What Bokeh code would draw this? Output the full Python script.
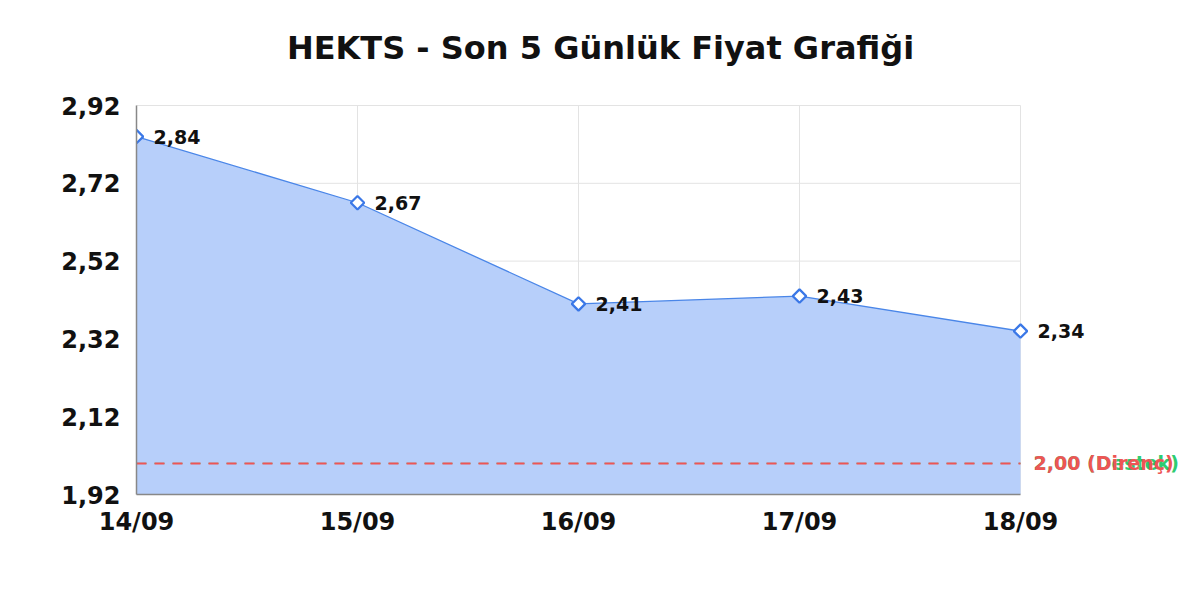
import math
from bokeh.plotting import figure
from bokeh.models import ColumnDataSource, FixedTicker
from bokeh.embed import file_html
from bokeh.resources import INLINE
from bokeh.core.properties import value

dates = ["14/09", "15/09", "16/09", "17/09", "18/09"]
prices = [2.84, 2.67, 2.41, 2.43, 2.34]
price_labels = ["2,84", "2,67", "2,41", "2,43", "2,34"]
y_ticks = [1.92, 2.12, 2.32, 2.52, 2.72, 2.92]
y_tick_labels = ["1,92", "2,12", "2,32", "2,52", "2,72", "2,92"]
level_values = [2.00, 2.00]
level_labels = ["2,00 (Destek)", "2,00 (Direnç)"]
level_colors = ["#2ecc71", "#ee5555"]
level_widths = [1.0, 2.0]
title_text = "HEKTS - Son 5 Günlük Fiyat Grafiği"

FONT = "DejaVu Sans"
xs = list(range(len(dates)))
x_last = xs[-1]
y_lo, y_hi = y_ticks[0], y_ticks[-1]
src = ColumnDataSource(dict(x=xs, y=prices, lbl=price_labels, base=[y_lo] * len(xs)))

# layout in pixels
W, H = 1184, 584
LEFT, BOTTOM = 136, 90
DATA_RIGHT_PX, DATA_TOP_PX = 1020, 105
px_per_x = (DATA_RIGHT_PX - LEFT) / x_last
px_per_y = (H - BOTTOM - DATA_TOP_PX) / (y_hi - y_lo)
x_end = x_last + (W - DATA_RIGHT_PX) / px_per_x
y_end = y_hi + DATA_TOP_PX / px_per_y

p = figure(width=W, height=H, output_backend="svg", toolbar_location=None,
           x_range=(0, x_end), y_range=(y_lo, y_end),
           min_border_left=LEFT, min_border_right=0, min_border_top=0, min_border_bottom=BOTTOM)
p.outline_line_color = None
p.background_fill_color = "white"
p.xgrid.visible = False
p.ygrid.visible = False

# title (centred on the page)
p.text(x=[(600 - LEFT) / px_per_x], y=[y_hi + (DATA_TOP_PX - 47) / px_per_y], text=[title_text],
       text_align="center", text_baseline="alphabetic", text_font=value(FONT),
       text_font_size="32px", text_font_style="bold", text_color="#111111")

# grid lines limited to the data area
p.segment(x0=[xs[0]] * len(y_ticks), x1=[x_last] * len(y_ticks), y0=y_ticks, y1=y_ticks,
          line_color="#e3e3e3", line_width=1)
p.segment(x0=xs, x1=xs, y0=[y_lo] * len(xs), y1=[y_hi] * len(xs), line_color="#e3e3e3", line_width=1)

p.varea(x="x", y1="base", y2="y", source=src, fill_color="#b7cffa", fill_alpha=1.0)

# support / resistance lines
lvl = ColumnDataSource(dict(x0=[xs[0]] * 2, x1=[x_last] * 2, y=level_values, w=level_widths,
                            c=level_colors, t=level_labels, xl=[x_last] * 2))
p.segment(x0="x0", x1="x1", y0="y", y1="y", source=lvl, line_color="c", line_dash="10 8", line_width="w")
p.text(x="xl", y="y", text="t", source=lvl, x_offset=13, text_baseline="middle", text_color="c",
       text_font=value(FONT), text_font_size="19px", text_font_style="bold")

p.line(x="x", y="y", source=src, line_color="#4a86e8", line_width=1.3)
p.scatter(x="x", y="y", source=src, marker="square", angle=math.pi / 4, size=9.5, fill_color="white",
          line_color="#3b78e7", line_width=2.2)
p.text(x="x", y="y", text="lbl", source=src, x_offset=17, text_baseline="middle",
       text_font=value(FONT), text_font_size="19px", text_font_style="bold", text_color="#111111")

p.xaxis.ticker = FixedTicker(ticks=xs)
p.xaxis.major_label_overrides = {i: d for i, d in zip(xs, dates)}
p.xaxis.bounds = (xs[0], x_last)
p.yaxis.ticker = FixedTicker(ticks=y_ticks)
p.yaxis.major_label_overrides = {t: l for t, l in zip(y_ticks, y_tick_labels)}
p.yaxis.bounds = (y_lo, y_hi)
for ax in (p.xaxis, p.yaxis):
    ax.major_tick_line_color = None
    ax.minor_tick_line_color = None
    ax.axis_line_color = "#888888"
    ax.axis_line_width = 1.5
    ax.major_label_text_font = FONT
    ax.major_label_text_font_size = "24px"
    ax.major_label_text_font_style = "bold"
    ax.major_label_text_color = "#111111"
p.xaxis.major_label_standoff = 7
p.yaxis.major_label_standoff = 10

open("out.html", "w").write(file_html(p, INLINE))
